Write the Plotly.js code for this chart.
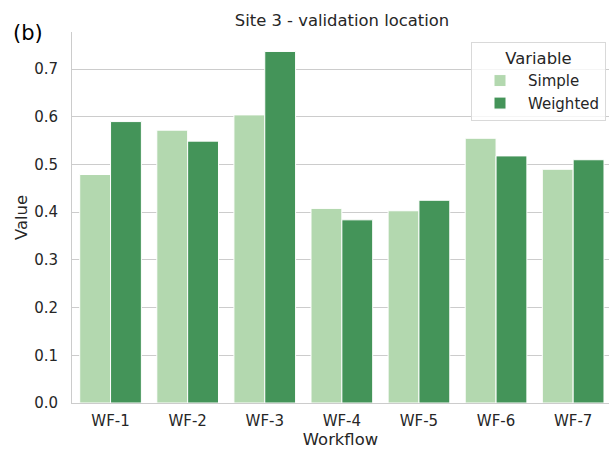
<!DOCTYPE html>
<html>
<head>
<meta charset="utf-8">
<script src="https://cdn.plot.ly/plotly-3.0.1.min.js"></script>
<style>html,body{margin:0;padding:0;background:#fff;}#chart{width:609px;height:449px;}</style>
</head>
<body>
<div id="chart"></div>
<script>
const workflows = ["WF-1", "WF-2", "WF-3", "WF-4", "WF-5", "WF-6", "WF-7"];
const simpleValues = [0.479, 0.572, 0.604, 0.408, 0.403, 0.555, 0.490];
const weightedValues = [0.590, 0.549, 0.737, 0.384, 0.425, 0.518, 0.510];
const seriesNames = ["Simple", "Weighted"];
const yTicks = [0, 0.1, 0.2, 0.3, 0.4, 0.5, 0.6, 0.7];

const FONT = "DejaVu Sans, sans-serif";
const TXT = "#262626";

const traces = [
  {type: "bar", name: seriesNames[0], x: workflows, y: simpleValues,
   marker: {color: "#b3d8af", line: {color: "#ffffff", width: 1}}, hoverinfo: "skip"},
  {type: "bar", name: seriesNames[1], x: workflows, y: weightedValues,
   marker: {color: "#449459", line: {color: "#ffffff", width: 1}}, hoverinfo: "skip"}
];

const layout = {
  width: 609, height: 449,
  margin: {l: 72, r: 0, t: 32, b: 46, pad: 0, autoexpand: false},
  paper_bgcolor: "#ffffff", plot_bgcolor: "#ffffff",
  font: {family: FONT, color: TXT, size: 15},
  barmode: "group", bargap: 0.2, bargroupgap: 0,
  showlegend: true,
  title: {text: "Site 3 - validation location", font: {size: 16.4, color: TXT},
          x: 342 / 609, xref: "container", xanchor: "center", y: 1 - 20 / 449, yref: "container", yanchor: "middle"},
  xaxis: {type: "category", range: [-0.5, 6.465], showgrid: false, zeroline: false,
          showline: true, linecolor: "#cccccc", linewidth: 1, ticks: "",
          tickfont: {size: 15, color: TXT}, ticklabelstandoff: 4,
          title: {text: "Workflow", font: {size: 16.4, color: TXT}, standoff: 8},
          automargin: false, fixedrange: true},
  yaxis: {range: [0, 0.7778], tickvals: yTicks, tickformat: ".1f", showgrid: true, gridcolor: "#cccccc", gridwidth: 1,
          zeroline: false, showline: true, linecolor: "#cccccc", linewidth: 1, ticks: "",
          tickfont: {size: 15, color: TXT}, ticklabelstandoff: 10,
          title: {text: "Value", font: {size: 16.4, color: TXT}, standoff: 2},
          automargin: false, fixedrange: true},
  legend: {x: (606 - 72) / 537, xref: "paper", xanchor: "right", y: (403 - 42) / 371, yref: "paper", yanchor: "top",
           bgcolor: "rgba(255,255,255,0.8)", bordercolor: "#d9d9d9", borderwidth: 1,
           font: {size: 15, color: TXT},
           title: {text: "Variable", side: "top center", font: {size: 16.4, color: TXT}},
           traceorder: "normal", itemwidth: 46},
  annotations: [{text: "(b)", xref: "paper", yref: "paper", x: (11 - 72) / 537, y: (403 - 33) / 371,
                 xanchor: "left", yanchor: "middle", showarrow: false, font: {size: 21, color: "#000000"}}]
};

Plotly.newPlot("chart", traces, layout, {displayModeBar: false, staticPlot: true});
</script>
</body>
</html>
